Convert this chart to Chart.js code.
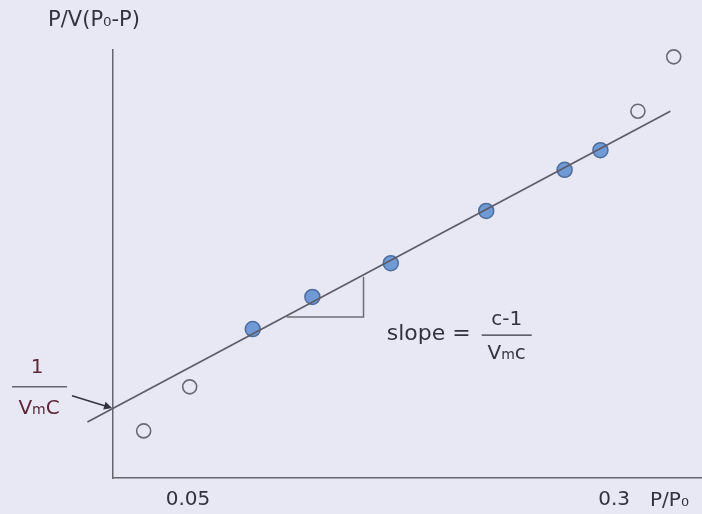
<!DOCTYPE html>
<html>
<head>
<meta charset="utf-8">
<script src="https://cdn.jsdelivr.net/npm/chart.js@4.4.0/dist/chart.umd.min.js"></script>
<style>
html, body { margin: 0; padding: 0; background: #e8e8f4; }
#wrap { width: 702px; height: 514px; }
</style>
</head>
<body>
<div id="wrap"><canvas id="betPlot"></canvas></div>
<script>
'use strict';

// BET plot, values (P/P0 against P/V(P0-P), arbitrary y units)
var excludedX  = [0.024, 0.051, 0.314, 0.335];
var excludedY  = [0.110, 0.213, 0.857, 0.984];
var linearX    = [0.088, 0.123, 0.169, 0.225, 0.271, 0.292];
var linearY    = [0.348, 0.423, 0.502, 0.624, 0.720, 0.766];
var fitX       = [-0.009, 0.333];
var fitY       = [0.131, 0.857];
var slopeX     = [0.108, 0.153, 0.153];
var slopeY     = [0.376, 0.376, 0.470];
var tickValues = [0.05, 0.3];

var axisGrey   = '#66656f';
var textDark   = '#35323f';
var textMaroon = '#5a2638';
var bgColour   = '#e8e8f4';
var baseFont   = '"DejaVu Sans", Verdana, sans-serif';

function pairs(xs, ys) {
    return xs.map(function (v, i) { return { x: v, y: ys[i] }; });
}

// writes "V m c" with the small m, centred on cx
function drawVmc(ctx, cx, cy, last, size) {
    var big = size + 'px ' + baseFont, small = Math.round(size * 0.72) + 'px ' + baseFont;
    ctx.font = big;
    var wV = ctx.measureText('V').width, wC = ctx.measureText(last).width;
    ctx.font = small;
    var wM = ctx.measureText('m').width;
    var left = cx - (wV + wM + wC) / 2;
    ctx.textAlign = 'left';
    ctx.textBaseline = 'alphabetic';
    var base = cy + size * 0.36;
    ctx.font = big;
    ctx.fillText('V', left, base);
    ctx.font = small;
    ctx.fillText('m', left + wV, base);
    ctx.font = big;
    ctx.fillText(last, left + wV + wM, base);
}

var betLabels = {
    id: 'betLabels',
    beforeDraw: function (chart) {
        var ctx = chart.ctx;
        ctx.save();
        ctx.fillStyle = bgColour;
        ctx.fillRect(0, 0, chart.width, chart.height);
        ctx.restore();
    },
    afterDraw: function (chart) {
        var ctx = chart.ctx, xs = chart.scales.x, ys = chart.scales.y, area = chart.chartArea;
        ctx.save();
        ctx.fillStyle = textDark;
        ctx.textBaseline = 'middle';

        // y title above the axis
        ctx.font = '21px ' + baseFont;
        ctx.textAlign = 'center';
        ctx.fillText('P/V(P\u2080-P)', area.left - 19, area.top - 29);

        // x unit after the last tick
        ctx.font = '20px ' + baseFont;
        ctx.textAlign = 'left';
        ctx.fillText('P/P\u2080', xs.getPixelForValue(tickValues[1]) + 36, area.bottom + 23);

        // slope = (c-1)/Vmc
        var fx = xs.getPixelForValue(0.237), fy = ys.getPixelForValue(0.334);
        ctx.font = '22px ' + baseFont;
        ctx.textAlign = 'right';
        ctx.fillText('slope =', fx - 36, fy - 1);
        ctx.textAlign = 'center';
        ctx.font = '20px ' + baseFont;
        ctx.fillText('c-1', fx, fy - 15);
        drawVmc(ctx, fx, fy + 17, 'c', 20);
        ctx.strokeStyle = textDark;
        ctx.lineWidth = 1.2;
        ctx.beginPath();
        ctx.moveTo(fx - 25, fy);
        ctx.lineTo(fx + 25, fy);
        ctx.stroke();

        // 1/VmC with arrow to the intercept
        var lx = xs.getPixelForValue(-0.0374), ly = ys.getPixelForValue(0.213);
        ctx.fillStyle = textMaroon;
        ctx.font = '20px ' + baseFont;
        ctx.textAlign = 'center';
        ctx.fillText('1', lx - 2, ly - 14);
        drawVmc(ctx, lx, ly + 20, 'C', 20);
        ctx.strokeStyle = axisGrey;
        ctx.lineWidth = 1.5;
        ctx.beginPath();
        ctx.moveTo(lx - 27, ly);
        ctx.lineTo(lx + 28, ly);
        ctx.stroke();

        var ix = area.left, iy = ys.getPixelForValue(
            fitY[0] + (fitY[1] - fitY[0]) * (xs.min - fitX[0]) / (fitX[1] - fitX[0]));
        var sx = lx + 33, sy = ly + 9;
        var ang = Math.atan2(iy - sy, ix - sx);
        ctx.strokeStyle = '#34333e';
        ctx.fillStyle = '#34333e';
        ctx.beginPath();
        ctx.moveTo(sx, sy);
        ctx.lineTo(ix - 3 * Math.cos(ang), iy - 3 * Math.sin(ang));
        ctx.stroke();
        ctx.beginPath();
        ctx.moveTo(ix - 1, iy - 1 * Math.sin(ang));
        ctx.lineTo(ix - 9 * Math.cos(ang) + 4 * Math.sin(ang), iy - 9 * Math.sin(ang) - 4 * Math.cos(ang));
        ctx.lineTo(ix - 9 * Math.cos(ang) - 4 * Math.sin(ang), iy - 9 * Math.sin(ang) + 4 * Math.cos(ang));
        ctx.closePath();
        ctx.fill();
        ctx.restore();
    }
};

new Chart(document.getElementById('betPlot'), {
    type: 'scatter',
    data: {
        datasets: [
            {
                label: 'fit',
                data: pairs(fitX, fitY),
                showLine: true,
                borderColor: '#5c5b66',
                borderWidth: 1.6,
                pointRadius: 0,
                clip: false,
                order: 0
            },
            {
                label: 'slope triangle',
                data: pairs(slopeX, slopeY),
                showLine: true,
                borderColor: '#6e6d78',
                borderWidth: 1.5,
                pointRadius: 0,
                order: 0
            },
            {
                label: 'linear range',
                data: pairs(linearX, linearY),
                pointRadius: 7.5,
                pointBackgroundColor: '#6f9ad6',
                pointBorderColor: '#4f6d9c',
                pointBorderWidth: 1.5,
                order: 1
            },
            {
                label: 'outside range',
                data: pairs(excludedX, excludedY),
                pointRadius: 7,
                pointBackgroundColor: 'rgba(0,0,0,0)',
                pointBorderColor: '#6a6973',
                pointBorderWidth: 1.6,
                clip: false,
                order: 1
            }
        ]
    },
    options: {
        responsive: true,
        maintainAspectRatio: false,
        animation: false,
        layout: { autoPadding: false, padding: { left: 113, top: 50, right: 0, bottom: 0 } },
        plugins: {
            legend: { display: false },
            tooltip: { enabled: false }
        },
        scales: {
            x: {
                type: 'linear',
                min: 0.006,
                max: 0.3516,
                grid: { display: false, drawTicks: false },
                border: { display: true, color: axisGrey, width: 1.5 },
                afterBuildTicks: function (scale) {
                    scale.ticks = tickValues.map(function (v) { return { value: v }; });
                },
                afterFit: function (scale) {
                    scale.height = 36;
                    scale.paddingLeft = 0;
                    scale.paddingRight = 0;
                },
                ticks: {
                    autoSkip: false,
                    maxRotation: 0,
                    padding: 10,
                    color: textDark,
                    font: { family: baseFont, size: 20 },
                    callback: function (value) { return String(value); }
                }
            },
            y: {
                type: 'linear',
                min: 0,
                max: 1,
                grid: { display: false, drawTicks: false },
                border: { display: true, color: axisGrey, width: 1.5 },
                ticks: { display: false }
            }
        }
    },
    plugins: [betLabels]
});
</script>
</body>
</html>
